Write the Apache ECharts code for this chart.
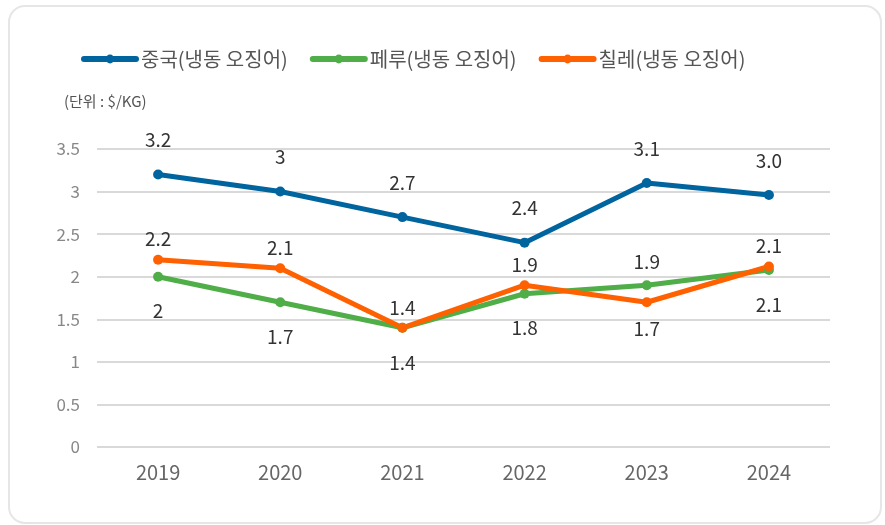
<!DOCTYPE html>
<html>
<head>
<meta charset="utf-8">
<script src="https://cdn.jsdelivr.net/npm/echarts@6/dist/echarts.min.js"></script>
<style>
  html, body { margin: 0; padding: 0; background: #fff; }
  #chart { width: 885px; height: 525px; }
</style>
</head>
<body>
<div id="chart"></div>
<script>
// 연도
var years = ['2019', '2020', '2021', '2022', '2023', '2024'];
// 냉동 오징어 가격 ($/KG)
var china = [3.2, 3.0, 2.7, 2.4, 3.1, 2.96];
var peru = [2.0, 1.7, 1.4, 1.8, 1.9, 2.08];
var chile = [2.2, 2.1, 1.4, 1.9, 1.7, 2.12];
var seriesNames = ['중국(냉동 오징어)', '페루(냉동 오징어)', '칠레(냉동 오징어)'];
var colors = ['#00649f', '#4fae48', '#ff6000'];

var font = '"Noto Sans CJK KR", "Noto Sans", sans-serif';

function fmt(p) {
    var v = p.value;
    return Number.isInteger(v) ? String(v) : v.toFixed(1);
}

// 2023년 라벨은 위치가 반대
function withPos(arr, idx, pos, dist) {
    return arr.map(function (v, i) {
        if (i === idx) {
            return { value: v, label: { position: pos, distance: dist } };
        }
        return v;
    });
}

var labelStyle = { show: true, formatter: fmt, fontSize: 19, color: '#333', fontFamily: font };

var option = {
    animation: false,
    textStyle: { fontFamily: font },
    graphic: [
        {
            type: 'rect',
            left: 8, top: 5,
            shape: { width: 872, height: 517, r: 16 },
            style: { fill: '#fff', stroke: '#e6e6e6', lineWidth: 2 },
            z: -10
        },
        {
            type: 'text',
            left: 64, top: 94,
            style: { text: '(단위 : $/KG)', fontSize: 15, fill: '#555', fontFamily: font }
        }
    ],
    legend: {
        left: 76, top: 44,
        itemWidth: 52, itemHeight: 11, itemGap: 22,
        textStyle: { fontSize: 20, color: '#555', fontFamily: font },
        lineStyle: { width: 6, cap: 'round' },
        data: seriesNames
    },
    grid: { left: 97, right: 55, top: 149, bottom: 78, containLabel: false },
    xAxis: {
        type: 'category',
        data: years,
        boundaryGap: true,
        axisLine: { show: false },
        axisTick: { show: false },
        axisLabel: { fontSize: 20, color: '#666', margin: 15, fontFamily: font }
    },
    yAxis: {
        type: 'value',
        min: 0, max: 3.5, interval: 0.5,
        axisLabel: { fontSize: 17, color: '#888', margin: 17, fontFamily: font },
        splitLine: { lineStyle: { color: '#d9d9d9', width: 2 } }
    },
    series: [
        {
            name: seriesNames[0], type: 'line', data: china,
            color: colors[0], symbol: 'circle', symbolSize: 10,
            lineStyle: { width: 5 },
            label: Object.assign({}, labelStyle, { position: 'top', distance: 20 })
        },
        {
            name: seriesNames[1], type: 'line', data: withPos(peru, 4, 'top', 9),
            color: colors[1], symbol: 'circle', symbolSize: 10,
            lineStyle: { width: 5 },
            label: Object.assign({}, labelStyle, { position: 'bottom', distance: 20 })
        },
        {
            name: seriesNames[2], type: 'line', data: withPos(chile, 4, 'bottom', 12),
            color: colors[2], symbol: 'circle', symbolSize: 10,
            lineStyle: { width: 5 },
            label: Object.assign({}, labelStyle, { position: 'top', distance: 6 })
        }
    ]
};

var chart = echarts.init(document.getElementById('chart'));
chart.setOption(option);
</script>
</body>
</html>
